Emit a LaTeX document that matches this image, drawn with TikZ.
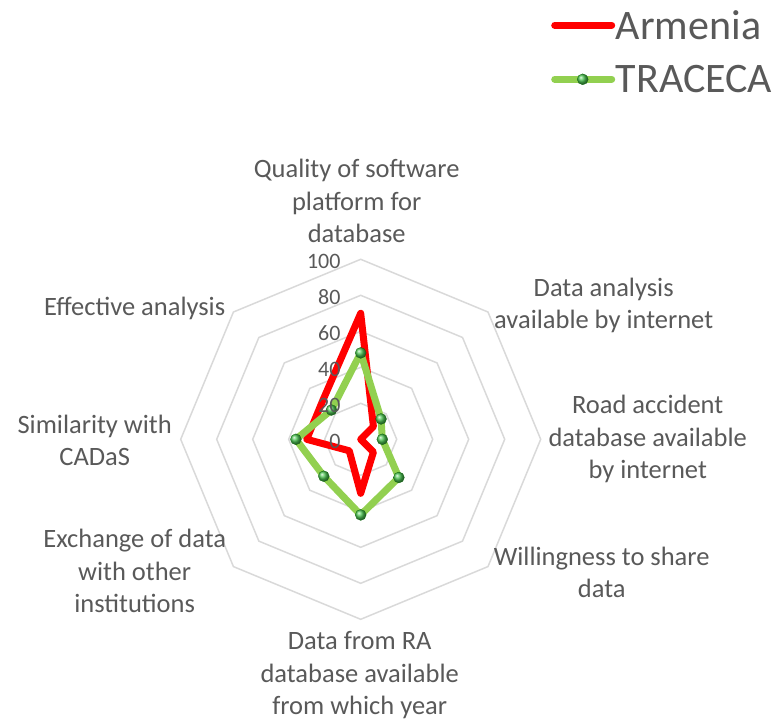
\documentclass[tikz,border=0pt]{standalone}
\usepackage{fontspec}
\setmainfont{Carlito}
\usetikzlibrary{shapes}
\definecolor{LabelGray}{HTML}{595959}
\definecolor{RingGray}{HTML}{D9D9D9}
\definecolor{ArmRed}{HTML}{FF0000}
\definecolor{TrcGreen}{HTML}{92D050}
\definecolor{MarkGreen}{HTML}{4CC552}
\tikzstyle{RingLine}=[draw=RingGray, line width=1.5pt]
\tikzstyle{ArmeniaLine}=[draw=ArmRed, line width=7pt, line join=round, line cap=round]
\tikzstyle{TracecaLine}=[draw=TrcGreen, line width=7pt, line join=round, line cap=round]
\tikzstyle{TracecaMark}=[circle, inner sep=0pt, minimum size=11pt, shade, ball color=MarkGreen, draw=green!40!black, very thin]
\tikzstyle{AxisLabel}=[align=center, text=LabelGray, font=\fontsize{26.5}{32.5}\selectfont, inner sep=0pt]
\tikzstyle{TickLabel}=[anchor=east, text=LabelGray, font=\fontsize{22}{26}\selectfont, inner sep=0pt]
\tikzstyle{LegendText}=[anchor=west, text=LabelGray, font=\fontsize{42}{50}\selectfont, inner sep=0pt]

\begin{document}
\begin{tikzpicture}[x=1pt, y=1pt]
\useasboundingbox (-360.7,-281.7) rectangle (415.3,439.3);

\begin{scope}[x=1.8pt, y=1.8pt]
% rings
\foreach \r in {20,40,...,100}
  \draw[RingLine] (0:\r) -- (45:\r) -- (90:\r) -- (135:\r) -- (180:\r) -- (225:\r) -- (270:\r) -- (315:\r) -- cycle;

% Armenia
\coordinate (A1) at (90:70);
\coordinate (A2) at (45:10);
\coordinate (A3) at (0:0);
\coordinate (A4) at (-45:10);
\coordinate (A5) at (-90:30);
\coordinate (A6) at (-135:9);
\coordinate (A7) at (180:30);
\coordinate (A8) at (135:30);

% TRACECA
\coordinate (T1) at (90:48);
\coordinate (T2) at (45:16);
\coordinate (T3) at (0:12);
\coordinate (T4) at (-45:30);
\coordinate (T5) at (-90:42);
\coordinate (T6) at (-135:29);
\coordinate (T7) at (180:36);
\coordinate (T8) at (135:23);
\end{scope}

\draw[ArmeniaLine](A1) -- (A2) -- (A3) -- (A4) -- (A5) -- (A6) -- (A7) -- (A8) -- cycle;
\draw[TracecaLine](T1) -- (T2) -- (T3) -- (T4) -- (T5) -- (T6) -- (T7) -- (T8) -- cycle;
\foreach \i in {1,...,8}
  \node[TracecaMark](TM\i) at (T\i) {};

% ticks
\foreach \v in {0,20,...,100}
  \node[TickLabel](Tick\v) at (-20,{\v*1.8-2}) {\v};

% axis labels
\node[AxisLabel](Quality) at (-4,238) {Quality of software\\platform for\\database};
\node[AxisLabel](Analysis) at (243,134) {Data analysis\\available by internet};
\node[AxisLabel](RoadAcc) at (287,0) {Road accident\\database available\\by internet};
\node[AxisLabel](Willing) at (241,-133) {Willingness to share\\data};
\node[AxisLabel](DataRA) at (-1,-236) {Data from RA\\database available\\from which year};
\node[AxisLabel](Exchange) at (-226,-132) {Exchange of data\\with other\\institutions};
\node[AxisLabel](Similar) at (-266,-1) {Similarity with\\CADaS};
\node[AxisLabel](Effective) at (-226,131) {Effective analysis};

% legend
\coordinate (ArmLegL) at (194,414);
\coordinate (ArmLegR) at (251,414);
\node[LegendText](ArmLegText) at (255,414) {Armenia};
\draw[ArmeniaLine](ArmLegL) -- (ArmLegR);
\coordinate (TrcLegL) at (194,360);
\coordinate (TrcLegR) at (251,360);
\node[LegendText](TrcLegText) at (255,360) {TRACECA};
\draw[TracecaLine](TrcLegL) -- (TrcLegR);
\node[TracecaMark](TrcLegMark) at (222,360) {};
\end{tikzpicture}
\end{document}
